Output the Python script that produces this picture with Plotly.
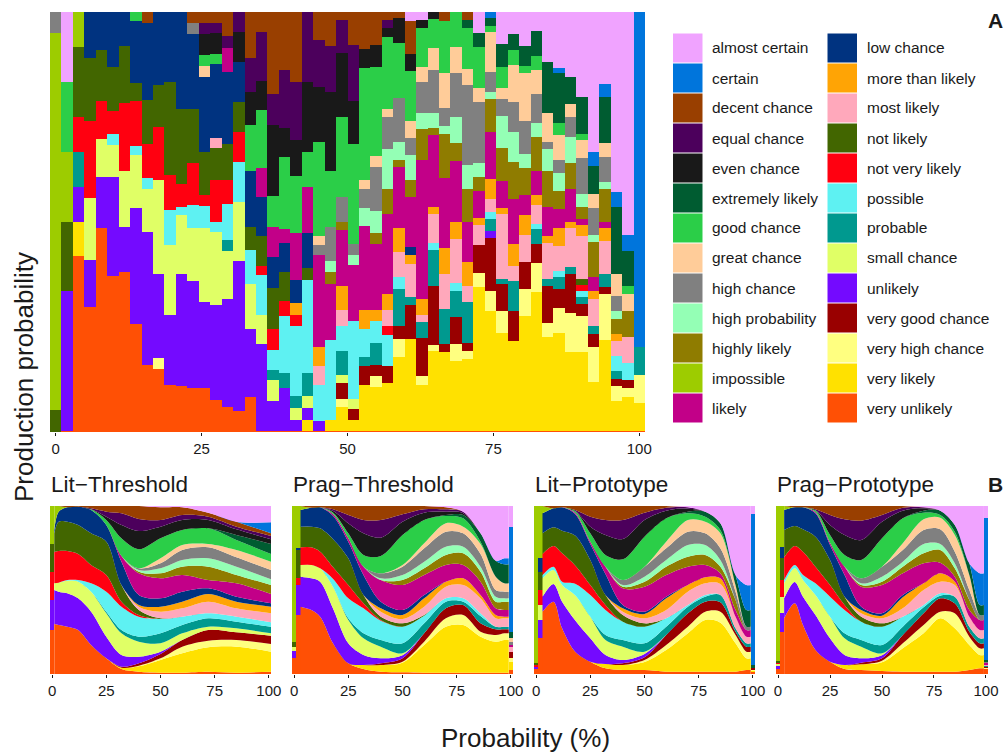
import plotly.graph_objects as go

W, H = 1006, 753
ML, MR = 15, 15
codes = ["vu","vl","vhc","vgc","unl","sc","prob","poss","nvl","nl","most","more","low","likely","imp","hl","hp","hc","great","good","ext","even","equal","decent","cert","ac"]
names = {"ac":"almost certain","cert":"certain","decent":"decent chance","equal":"equal chance","even":"even chance","ext":"extremely likely","good":"good chance","great":"great chance","hc":"high chance","hp":"high probability","hl":"highly likely","imp":"impossible","likely":"likely","low":"low chance","more":"more than likely","most":"most likely","nl":"not likely","nvl":"not very likely","poss":"possible","prob":"probable","sc":"small chance","unl":"unlikely","vgc":"very good chance","vhc":"very high chance","vl":"very likely","vu":"very unlikely"}
colors = {"ac":"#F0A3FF","cert":"#0075DC","decent":"#993F00","equal":"#4C005C","even":"#191919","ext":"#005C31","good":"#2BCE48","great":"#FFCC99","hc":"#808080","hp":"#94FFB5","hl":"#8F7C00","imp":"#9DCC00","likely":"#C20088","low":"#003380","more":"#FFA405","most":"#FFA8BB","nl":"#426600","nvl":"#FF0010","poss":"#5EF1F2","prob":"#00998F","sc":"#E0FF66","unl":"#740AFF","vgc":"#990000","vhc":"#FFFF80","vl":"#FFE100","vu":"#FF5005"}
legend_left = ["ac","cert","decent","equal","even","ext","good","great","hc","hp","hl","imp","likely"]
legend_right = ["low","more","most","nl","nvl","poss","prob","sc","unl","vgc","vhc","vl","vu"]
tick_vals = [0,25,50,75,100]
panel_titles = ["Lit\u2212Threshold","Prag\u2212Threshold","Lit\u2212Prototype","Prag\u2212Prototype"]

# Panel A: read-off production shares per probability bin (each bin is normalised to 1)
A00=dict(hc=64,imp=1130,nl=67)
A01=dict(ac=211,good=208,imp=210,nl=208,unl=420,vu=4)
A02=dict(imp=106,nl=208,nvl=105,prob=105,unl=105,vl=105,vu=527)
A03=dict(low=139,nl=187,nvl=233,sc=187,unl=140,vu=375)
A04=dict(low=114,nl=153,nvl=115,sc=114,unl=153,vu=612)
A05=dict(low=166,nl=131,nvl=68,poss=34,sc=97,unl=298,vu=467)
A06=dict(low=102,nl=170,nvl=204,sc=170,unl=136,vu=479)
A07=dict(good=27,low=187,nl=53,nvl=135,poss=27,sc=160,unl=348,vu=324)
A08=dict(decent=34,low=230,nl=133,nvl=100,poss=34,sc=131,unl=398,vu=201)
A09=dict(low=219,nl=127,nvl=158,sc=283,unl=251,vhc=33,vu=190)
A10=dict(low=211,nl=278,nvl=105,poss=106,sc=209,unl=210,vu=142)
A11=dict(low=291,nl=226,nvl=67,poss=25,sc=178,unl=335,vu=139)
A12=dict(decent=32,hc=34,low=225,nl=161,nvl=127,poss=68,sc=160,unl=322,vu=132)
A13=dict(decent=34,equal=32,even=63,good=33,great=32,low=225,nl=130,nvl=33,poss=65,sc=225,unl=257,vu=132)
A14=dict(decent=32,equal=30,even=65,good=30,low=222,most=30,nl=95,nvl=125,poss=33,sc=219,unl=283,vu=97)
A15=dict(decent=72,equal=37,likely=70,low=217,nl=108,nvl=72,poss=108,prob=35,sc=143,unl=324,vu=75)
A16=dict(equal=61,even=90,low=120,nl=90,nvl=90,poss=120,sc=178,unl=448,vu=64)
A17=dict(decent=137,equal=102,even=100,good=137,low=170,nl=70,poss=101,sc=135,unl=204,vu=105)
A18=dict(decent=59,equal=148,even=87,good=175,likely=87,low=118,nl=88,nvl=29,poss=118,sc=87,unl=261,vu=4)
A19=dict(decent=246,equal=93,even=213,good=94,likely=91,low=92,nl=123,nvl=62,poss=60,prob=32,sc=61,unl=90,vu=4)
A20=dict(decent=174,equal=175,even=85,good=217,likely=43,low=87,nl=88,nvl=43,poss=172,prob=45,unl=128,vu=4)
A21=dict(decent=211,equal=173,even=107,good=173,likely=140,low=70,more=35,nvl=35,poss=210,prob=35,sc=35,unl=33,vu=4)
A22=dict(equal=211,even=208,good=105,likely=140,low=105,nl=35,poss=280,prob=70,sc=35,unl=35,vl=33,vu=4)
A23=dict(decent=84,equal=140,even=167,good=281,great=29,hc=28,likely=278,more=57,most=55,poss=110,unl=28,vu=4)
A24=dict(decent=102,equal=137,even=237,good=170,hc=103,hp=33,hl=35,likely=169,poss=238,vl=33,vu=4)
A25=dict(decent=24,equal=98,even=192,good=242,hc=73,hl=25,likely=170,more=72,most=46,poss=75,prob=72,sc=25,vgc=48,vhc=24,vl=71,vu=4)
A26=dict(decent=99,equal=167,even=131,good=299,hc=33,hp=32,likely=166,poss=234,sc=30,vgc=33,vl=33,vu=4)
A27=dict(decent=111,even=58,good=335,great=28,hc=55,hp=55,likely=254,more=55,poss=85,prob=26,vgc=57,vl=138,vu=4)
A28=dict(decent=99,even=67,good=265,great=33,hc=132,hp=68,hl=32,likely=200,more=31,poss=67,prob=66,vgc=34,vhc=33,vl=130,vu=4)
A29=dict(decent=24,equal=25,even=25,good=217,great=24,hc=97,hp=120,hl=74,likely=241,more=49,most=48,nvl=25,poss=95,vgc=50,vl=143,vu=4)
A30=dict(decent=19,even=75,good=165,hc=130,hp=55,hl=20,likely=185,more=72,most=75,poss=36,prob=112,vgc=37,vhc=56,vl=220,vu=4)
A31=dict(ac=26,decent=101,even=49,good=151,great=52,hc=50,hp=75,hl=50,likely=152,low=25,more=25,most=100,prob=25,vgc=100,vl=276,vu=4)
A32=dict(ac=24,even=23,good=117,great=47,hc=93,hp=47,hl=93,likely=418,more=47,most=23,prob=47,vgc=115,vhc=25,vl=138,vu=4)
A33=dict(even=22,good=87,great=65,hc=130,hp=44,hl=21,likely=217,more=21,most=87,poss=22,prob=108,vgc=175,vhc=20,vl=238,vu=4)
A34=dict(decent=26,good=158,great=105,hc=52,hp=26,hl=132,likely=210,more=77,most=105,prob=105,vgc=26,vl=235,vu=4)
A35=dict(good=106,great=78,hc=131,hp=78,hl=54,likely=182,more=53,most=132,poss=25,prob=78,vgc=80,vhc=52,vl=208,vu=4)
A36=dict(decent=24,ext=25,good=122,great=48,hc=240,hp=73,hl=97,likely=122,more=71,most=50,prob=122,vgc=23,vhc=24,vl=216,vu=4)
A37=dict(ac=62,ext=42,good=123,great=42,hc=185,hp=42,hl=41,likely=82,more=20,most=62,vgc=83,vhc=42,vl=431,vu=4)
A38=dict(cert=19,ext=22,good=20,great=120,hc=60,hp=20,hl=100,likely=140,more=60,most=38,poss=21,prob=39,unl=20,vgc=160,vhc=60,vl=358,vu=4)
A39=dict(ac=97,ext=67,good=65,great=33,hc=50,hp=97,hl=98,likely=82,more=17,most=195,prob=16,vgc=82,vhc=65,vl=293,vu=4)
A40=dict(ac=67,ext=47,good=45,great=112,hc=88,hp=92,hl=111,likely=135,more=67,most=45,prob=90,vgc=90,vl=268,vu=4)
A41=dict(ac=102,ext=60,good=22,great=142,hc=101,hp=40,hl=82,likely=60,more=60,most=82,vgc=81,vhc=82,vl=343,vu=4)
A42=dict(ac=57,ext=74,good=43,great=72,hc=88,hp=43,hl=102,likely=72,more=28,most=58,poss=15,prob=45,vgc=56,vhc=87,vl=418,vu=4)
A43=dict(ac=151,ext=153,great=87,hc=21,hp=65,hl=109,likely=86,more=22,most=108,prob=22,vgc=110,vhc=43,vl=280,vu=4)
A44=dict(ac=167,cert=17,ext=150,good=35,great=75,hc=38,hp=55,hl=55,likely=55,more=55,most=77,poss=17,prob=36,vgc=57,vhc=75,vl=293,vu=4)
A45=dict(ac=196,ext=80,great=39,hc=59,hp=78,hl=79,likely=98,more=18,most=119,prob=20,vgc=118,vhc=118,vl=235,vu=4)
A46=dict(ac=255,ext=111,good=18,great=53,hc=110,hp=37,hl=37,likely=18,more=35,most=128,nl=17,nvl=20,poss=18,prob=19,vgc=36,vhc=110,vl=235,vu=4)
A47=dict(ac=419,cert=43,ext=84,great=41,hc=84,hp=21,hl=105,likely=42,more=22,most=83,prob=22,vgc=41,vhc=105,vl=145,vu=4)
A48=dict(ac=217,cert=38,ext=139,great=40,hc=77,hp=20,hl=98,likely=18,more=40,most=99,prob=40,vgc=20,vhc=138,vl=273,vu=4)
A49=dict(ac=539,cert=45,ext=203,great=67,hc=45,hp=22,hl=46,more=22,most=45,poss=45,prob=22,vgc=23,vhc=45,vl=88,vu=4)
A50=dict(ac=669,cert=50,ext=103,good=26,great=51,hl=77,most=78,poss=50,vgc=26,vhc=26,vl=101,vu=4)
A51=dict(cert=1006,prob=84,vhc=84,vl=83,vu=4)
main_bins = [A00,A01,A02,A03,A04,A05,A06,A07,A08,A09,A10,A11,A12,A13,A14,A15,A16,A17,A18,A19,A20,A21,A22,A23,A24,A25,A26,A27,A28,A29,A30,A31,A32,A33,A34,A35,A36,A37,A38,A39,A40,A41,A42,A43,A44,A45,A46,A47,A48,A49,A50,A51]

# Panel B: read-off model predictions (edge bins drawn as bars, the interior as a smooth stack)
P1_edge_x = [0]
P1_edge = [dict(imp=114,nl=83,nvl=85,unl=90,vu=132)]
P1_x = [0.98,3,7,12,18,25,32,40,50,60,72,85,100.98]
P1 = [
 dict(imp=72,low=8,nl=55,nvl=92,sc=20,unl=100,vu=147),
 dict(imp=17,low=30,nl=88,nvl=95,sc=27,unl=100,vu=147),
 dict(decent=4,low=43,nl=88,nvl=87,poss=2,sc=38,unl=100,vu=142),
 dict(decent=2,low=55,nl=87,nvl=78,poss=5,sc=50,unl=95,vu=132),
 dict(decent=7,equal=3,good=2,low=70,nl=95,nvl=55,poss=25,sc=60,unl=100,vu=87),
 dict(decent=17,equal=15,even=10,good=15,low=50,nl=100,nvl=50,poss=60,prob=5,sc=70,unl=65,vu=47),
 dict(decent=22,equal=35,even=40,good=53,likely=17,low=70,nl=50,nvl=15,poss=70,prob=10,sc=65,unl=35,vgc=3,vl=4,vu=15),
 dict(decent=39,equal=36,even=55,good=57,hc=5,hp=5,hl=5,likely=65,low=30,more=5,most=10,nl=15,nvl=5,poss=60,prob=15,sc=45,unl=20,vgc=7,vhc=2,vl=16,vu=7),
 dict(ac=4,decent=38,equal=20,even=35,good=60,great=15,hc=15,hp=15,hl=15,likely=60,low=25,more=15,most=20,nl=2,poss=43,prob=30,sc=25,unl=7,vgc=13,vhc=5,vl=38,vu=4),
 dict(ac=4,decent=23,equal=15,even=30,good=45,great=15,hc=30,hp=20,hl=25,likely=50,low=30,more=20,most=25,poss=25,prob=25,sc=20,vgc=20,vhc=20,vl=58,vu=4),
 dict(ac=20,decent=12,equal=10,even=25,good=47,great=10,hc=33,hp=25,hl=40,likely=25,low=17,more=23,most=35,poss=15,prob=25,sc=10,vgc=32,vhc=20,vl=73,vu=7),
 dict(ac=47,decent=15,equal=8,even=17,ext=15,good=30,great=22,hc=28,hp=25,hl=25,likely=40,low=15,more=20,most=25,poss=15,prob=20,sc=12,vgc=23,vhc=20,vl=78,vu=4),
 dict(ac=49,cert=33,decent=8,equal=10,even=14,ext=30,good=23,great=25,hc=28,hp=17,hl=27,likely=28,low=10,more=20,most=27,poss=13,prob=20,sc=7,vgc=25,vhc=23,vl=60,vu=7),
]
P2_edge_x = [0,1.96,100]
P2_edge = [
 dict(imp=407,nl=15,sc=12,unl=21,vu=49),
 dict(imp=127,low=3,nl=87,nvl=20,unl=90,vu=177),
 dict(ac=62,cert=315,ext=20,great=10,hc=10,likely=5,most=15,vgc=20,vhc=10,vl=25,vu=12),
]
P2_x = [2.94,8,12,18,25,32,40,50,60,70,78,86,93,97,99.02]
P2 = [
 dict(imp=12,low=50,nl=62,nvl=53,sc=35,unl=90,vu=202),
 dict(decent=5,low=57,nl=62,nvl=53,sc=40,unl=95,vu=192),
 dict(decent=4,low=63,nl=70,nvl=50,sc=40,unl=105,vu=172),
 dict(decent=10,equal=5,even=5,good=5,likely=5,low=70,nl=85,nvl=35,poss=25,sc=65,unl=105,vu=92),
 dict(decent=27,equal=25,even=30,good=15,likely=10,low=50,nl=80,nvl=40,poss=60,prob=5,sc=70,unl=60,vu=32),
 dict(decent=42,equal=40,even=65,good=35,likely=25,low=60,nl=25,nvl=15,poss=75,prob=15,sc=50,unl=30,vl=12,vu=15),
 dict(decent=42,equal=53,even=55,good=52,hc=15,hp=5,likely=65,low=20,more=10,most=15,nl=10,nvl=2,poss=58,prob=20,sc=35,unl=15,vgc=5,vl=20,vu=7),
 dict(decent=25,equal=22,even=40,good=90,great=5,hc=25,hp=15,hl=15,likely=75,low=15,more=12,most=13,nl=10,poss=50,prob=30,sc=6,unl=9,vgc=10,vhc=3,vl=29,vu=5),
 dict(decent=10,equal=10,even=22,good=70,great=15,hc=40,hp=20,hl=20,likely=60,low=10,more=25,most=25,nl=2,poss=23,prob=30,vgc=25,vhc=10,vl=83,vu=4),
 dict(ac=4,decent=6,equal=7,even=10,ext=3,good=22,great=25,hc=45,hp=25,hl=30,likely=50,more=15,most=35,poss=10,prob=20,vgc=30,vhc=25,vl=138,vu=4),
 dict(ac=17,equal=5,even=5,ext=10,good=25,great=20,hc=40,hp=20,hl=35,likely=40,more=20,most=40,poss=10,prob=10,vgc=30,vhc=30,vl=143,vu=4),
 dict(ac=82,ext=25,good=7,great=30,hc=38,hp=15,hl=30,likely=40,more=10,most=45,poss=8,prob=22,vgc=25,vhc=15,vl=108,vu=4),
 dict(ac=164,ext=48,great=40,hc=20,hp=15,hl=20,likely=20,more=10,most=25,prob=8,vgc=17,vhc=20,vl=93,vu=4),
 dict(ac=157,cert=18,ext=57,great=25,hc=20,hp=10,hl=25,likely=20,more=5,most=25,prob=8,vgc=12,vhc=20,vl=98,vu=4),
 dict(ac=157,cert=18,ext=57,great=25,hc=20,hp=10,hl=25,likely=20,more=5,most=25,prob=8,vgc=12,vhc=20,vl=98,vu=4),
]
P3_edge_x = [0,1.96,100]
P3_edge = [
 dict(imp=470,nl=7,nvl=5,unl=5,vu=17),
 dict(imp=157,low=40,nl=55,nvl=45,sc=45,unl=55,vu=107),
 dict(ac=25,cert=452,ext=10,vgc=5,vhc=3,vl=2,vu=7),
]
P3_x = [2.94,8,12,18,25,32,40,50,60,70,78,85,92,97,99.02]
P3 = [
 dict(imp=22,low=60,nl=62,nvl=63,poss=10,sc=55,unl=45,vu=187),
 dict(decent=7,low=57,nl=56,nvl=62,poss=10,sc=42,unl=53,vu=217),
 dict(decent=4,low=70,nl=68,nvl=85,poss=10,sc=50,unl=80,vu=137),
 dict(decent=12,equal=3,good=5,likely=4,low=65,nl=90,nvl=55,poss=35,sc=75,unl=95,vu=67),
 dict(decent=32,equal=30,even=20,good=25,likely=7,low=48,nl=75,nvl=30,poss=65,sc=65,unl=70,vu=37),
 dict(decent=42,equal=45,even=60,good=35,likely=22,low=63,nl=30,nvl=15,poss=75,prob=15,sc=45,unl=27,vl=13,vu=17),
 dict(decent=42,equal=57,even=61,good=62,hc=15,hp=5,hl=5,likely=50,low=10,more=10,most=10,nl=20,poss=55,prob=20,sc=40,unl=10,vgc=5,vl=15,vu=12),
 dict(decent=20,equal=22,even=50,good=90,hc=30,hp=15,hl=15,likely=75,low=7,more=13,most=15,nl=10,poss=50,prob=25,sc=7,unl=10,vgc=8,vhc=6,vl=24,vu=12),
 dict(decent=5,equal=9,even=23,good=70,great=20,hc=35,hp=20,hl=25,likely=65,low=5,more=35,most=25,poss=25,prob=25,vgc=30,vhc=15,vl=65,vu=7),
 dict(ac=4,equal=4,even=9,ext=5,good=20,great=35,hc=40,hp=35,hl=30,likely=55,more=20,most=40,poss=5,prob=20,vgc=40,vhc=20,vl=115,vu=7),
 dict(ac=17,ext=15,good=15,great=35,hc=35,hp=30,hl=30,likely=37,more=18,most=35,poss=5,prob=15,vgc=30,vhc=25,vl=155,vu=7),
 dict(ac=52,ext=20,good=10,great=45,hc=35,hp=20,hl=20,likely=15,more=17,most=33,prob=22,vgc=28,vhc=33,vl=147,vu=7),
 dict(ac=207,ext=30,great=20,hc=25,hl=30,likely=20,most=35,prob=10,vgc=10,vhc=25,vl=85,vu=7),
 dict(ac=237,cert=75,ext=50,hc=10,likely=20,most=20,prob=10,vgc=15,vhc=20,vl=35,vu=12),
 dict(ac=237,cert=75,ext=50,hc=10,likely=20,most=20,prob=10,vgc=15,vhc=20,vl=35,vu=12),
]
P4_edge_x = [0,1.96,100]
P4_edge = [
 dict(imp=464,nl=6,nvl=4,sc=6,unl=9,vu=15),
 dict(imp=122,low=35,nl=65,nvl=50,sc=50,unl=55,vu=127),
 dict(ac=35,cert=427,ext=5,hc=4,likely=4,most=4,prob=3,vgc=3,vhc=2,vl=2,vu=15),
]
P4_x = [2.94,8,12,18,25,32,40,50,60,70,78,85,92,97,99.02]
P4 = [
 dict(imp=12,low=60,nl=82,nvl=68,poss=10,sc=45,unl=60,vu=167),
 dict(decent=4,low=56,nl=60,nvl=57,poss=10,sc=41,unl=64,vu=212),
 dict(decent=4,low=66,nl=67,nvl=70,poss=15,sc=50,unl=85,vu=147),
 dict(decent=10,equal=3,good=5,likely=4,low=70,nl=90,nvl=50,poss=35,sc=60,unl=105,vu=72),
 dict(decent=27,equal=30,even=30,good=23,likely=7,low=45,nl=75,nvl=35,poss=60,sc=65,unl=70,vu=37),
 dict(decent=40,equal=47,even=60,good=35,likely=25,low=65,nl=25,nvl=15,poss=70,prob=15,sc=50,unl=30,vl=12,vu=15),
 dict(decent=44,equal=58,even=60,good=55,hc=15,hp=5,hl=5,likely=60,low=10,more=10,most=10,nl=15,poss=55,prob=20,sc=35,unl=13,vgc=5,vl=17,vu=12),
 dict(decent=27,equal=20,even=50,good=85,hc=30,hp=15,hl=10,likely=85,low=7,more=8,most=15,nl=10,poss=55,prob=25,sc=6,unl=9,vgc=7,vhc=5,vl=26,vu=9),
 dict(decent=5,equal=9,even=23,good=75,great=20,hc=35,hp=15,hl=20,likely=65,low=7,more=33,most=25,poss=30,prob=25,vgc=25,vhc=15,vl=70,vu=7),
 dict(ac=4,equal=3,even=7,ext=6,good=20,great=32,hc=42,hp=28,hl=30,likely=60,more=20,most=45,poss=7,prob=18,vgc=35,vhc=25,vl=115,vu=7),
 dict(ac=14,ext=13,good=8,great=35,hc=44,hp=18,hl=38,likely=32,more=25,most=35,poss=7,prob=8,vgc=40,vhc=20,vl=160,vu=7),
 dict(ac=57,ext=20,good=10,great=50,hc=35,hp=15,hl=25,likely=15,more=10,most=35,prob=20,vgc=30,vhc=45,vl=130,vu=7),
 dict(ac=172,ext=35,great=45,hc=30,hl=30,likely=20,most=30,prob=15,vgc=15,vhc=25,vl=75,vu=12),
 dict(ac=202,cert=95,ext=30,hc=15,likely=30,most=25,prob=15,vgc=15,vhc=20,vl=40,vu=17),
 dict(ac=202,cert=95,ext=30,hc=15,likely=30,most=25,prob=15,vgc=15,vhc=20,vl=40,vu=17),
]

TXT = "#1a1a1a"
FONT = "Liberation Sans"
def X(px): return (px-ML)/(W-ML-MR)
fig = go.Figure()
main_x = [i*100/51 for i in range(len(main_bins))]
for c in codes:
    fig.add_trace(go.Bar(x=main_x, y=[b.get(c,0) for b in main_bins], width=100/51, name=names[c],
                         marker=dict(color=colors[c], line=dict(width=0)), showlegend=False, xaxis="x", yaxis="y"))
panels = [(P1_edge_x,P1_edge,P1_x,P1,"x2","y2",50,271),(P2_edge_x,P2_edge,P2_x,P2,"x3","y3",292,513),
          (P3_edge_x,P3_edge,P3_x,P3,"x4","y4",534,755),(P4_edge_x,P4_edge,P4_x,P4,"x5","y5",776,988)]
for ex,erows,xs,rows,xa,ya,_,_ in panels:
    for c in codes:
        fig.add_trace(go.Bar(x=ex, y=[r.get(c,0) for r in erows], width=100/51, name=names[c],
                             marker=dict(color=colors[c], line=dict(width=0)), showlegend=False, xaxis=xa, yaxis=ya))
    for c in codes:
        fig.add_trace(go.Scatter(x=xs, y=[r.get(c,0) for r in rows], mode="none", stackgroup=xa, groupnorm="fraction",
                                 line=dict(shape="spline",smoothing=0.9,width=0),
                                 fillcolor=colors[c], name=names[c], showlegend=False, xaxis=xa, yaxis=ya))

def xaxis(x0,x1,anchor,size):
    return dict(domain=[X(x0),X(x1)],range=[-0.98,100.98],tickmode="array",tickvals=tick_vals,ticks="outside",ticklen=3,tickwidth=1,
                tickcolor=TXT,showgrid=False,zeroline=False,showline=False,anchor=anchor,tickfont=dict(size=size,color=TXT,family=FONT))
def yaxis(top,bot,anchor):
    return dict(domain=[1-bot/H,1-top/H],range=[0,1],showticklabels=False,ticks="",showgrid=False,zeroline=False,showline=False,anchor=anchor)
layout = dict(width=W,height=H,margin=dict(l=ML,r=MR,t=0,b=0),barmode="stack",barnorm="fraction",bargap=0,
              paper_bgcolor="white",plot_bgcolor="white",font=dict(family=FONT,color=TXT),
              xaxis=xaxis(50,645,"y",15),yaxis=yaxis(12,432,"x"))
for i,p in enumerate(panels):
    n=i+2
    layout[f"xaxis{n}"]=xaxis(p[6],p[7],p[5],15)
    layout[f"yaxis{n}"]=yaxis(506,674,p[4])
shapes=[];ann=[]
def text(x,y,s,size,anchor="left",bold=False,angle=0):
    ann.append(dict(x=X(x),y=1-y/H,xref="paper",yref="paper",text=f"<b>{s}</b>" if bold else s,showarrow=False,xanchor=anchor,yanchor="middle",
                    font=dict(size=size,color=TXT,family=FONT),textangle=angle))
for col,(items,sx,tx) in enumerate([(legend_left,673,710),(legend_right,827.5,865)]):
    for r,c in enumerate(items):
        y0=33.5+30*r
        shapes.append(dict(type="rect",xref="paper",yref="paper",x0=X(sx),x1=X(sx+29.5),y0=1-y0/H,y1=1-(y0+29)/H,fillcolor=colors[c],line=dict(width=0)))
        text(tx,y0+14.5,names[c],15.5)
for t,p in zip(panel_titles,panels):
    text(p[6]-1,484,t,22.5)
text(24,377,"Production probability",26,"center",angle=-90)
text(525,738,"Probability (%)",26,"center")
text(1005,21,"A",21,"right",True)
text(1005,484,"B",21,"right",True)
layout["shapes"]=shapes;layout["annotations"]=ann
fig.update_layout(**layout)
fig.write_html("out.html",config={"responsive":False,"displayModeBar":False},default_width=f"{W}px",default_height=f"{H}px",
               post_script="document.body.style.margin='0';")
